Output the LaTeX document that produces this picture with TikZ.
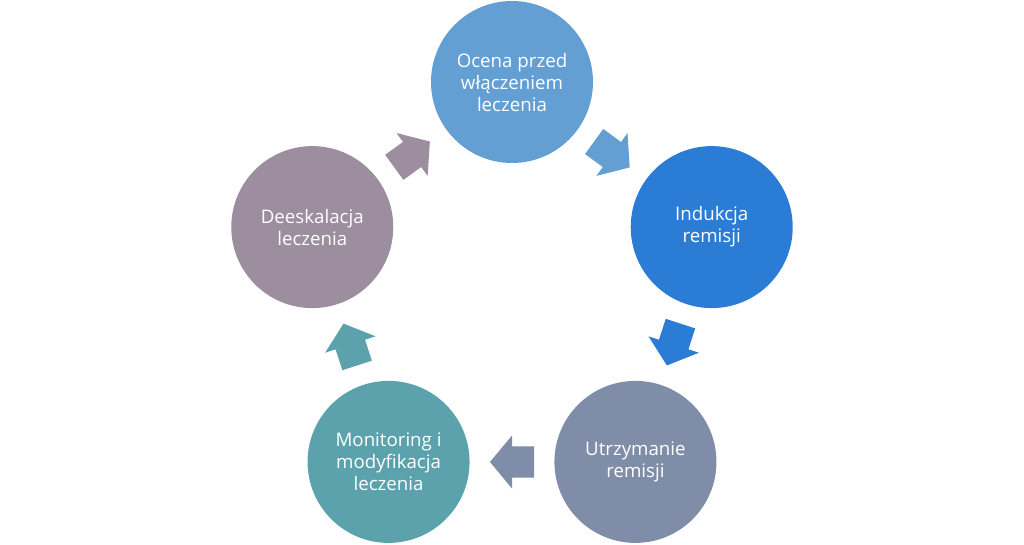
\documentclass[tikz,border=0pt]{standalone}
\usepackage{fontspec}
\setmainfont{Open Sans}
\definecolor{cTop}{HTML}{649FD3}
\definecolor{cRight}{HTML}{2B7CD4}
\definecolor{cBR}{HTML}{7F8DA9}
\definecolor{cBL}{HTML}{5BA2AD}
\definecolor{cLeft}{HTML}{9C8D9F}
\tikzset{
  stage/.style={circle, minimum size=162pt, inner sep=0pt, text=white,
    align=center, font=\fontsize{18.7}{22}\selectfont},
}
\newcommand{\blockarr}[3]{% name-angle, direction, colour
  \fill[#3, shift={(#1:170)}, rotate=#2]
    (-22,-15.5) -- (0,-15.5) -- (0,-26.5) -- (22,0) -- (0,26.5) -- (0,15.5) -- (-22,15.5) -- cycle;}
\begin{document}
\begin{tikzpicture}[x=1pt,y=1pt]
\useasboundingbox (-512,-253) rectangle (512,292);
\coordinate (O) at (0,0);
\node[stage, fill=cTop]   (s1) at (90:210)   {Ocena przed\\włączeniem\\leczenia};
\node[stage, fill=cRight] (s2) at (18:210)   {Indukcja\\remisji};
\node[stage, fill=cBR]    (s3) at (-54:210)  {Utrzymanie\\remisji};
\node[stage, fill=cBL]    (s4) at (-126:210) {Monitoring i\\modyfikacja\\leczenia};
\node[stage, fill=cLeft]  (s5) at (162:210)  {Deeskalacja\\leczenia};
\blockarr{54}{-36}{cTop}
\blockarr{-18}{-108}{cRight}
\blockarr{-90}{180}{cBR}
\blockarr{-162}{108}{cBL}
\blockarr{126}{36}{cLeft}
\end{tikzpicture}
\end{document}
